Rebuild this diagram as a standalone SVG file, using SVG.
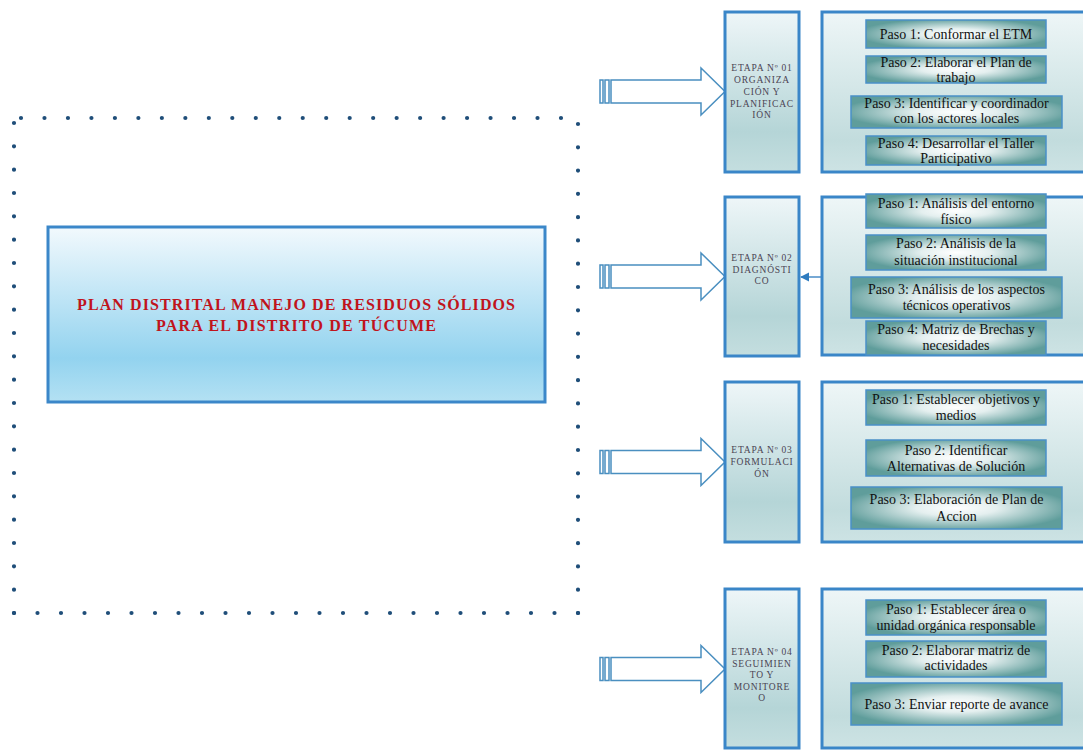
<svg xmlns="http://www.w3.org/2000/svg" width="1083" height="750" viewBox="0 0 1083 750">
<defs>
<linearGradient id="gMain" x1="0" y1="0" x2="0" y2="1">
<stop offset="0" stop-color="#f2f9fd"/>
<stop offset="0.75" stop-color="#93d3ef"/>
<stop offset="1" stop-color="#b4e1f3"/>
</linearGradient>
<linearGradient id="gEtapa" x1="0" y1="0" x2="0" y2="1">
<stop offset="0" stop-color="#eef6f8"/>
<stop offset="0.75" stop-color="#b5d5d7"/>
<stop offset="1" stop-color="#c4dedf"/>
</linearGradient>
<linearGradient id="gCont" x1="0" y1="0" x2="0" y2="1">
<stop offset="0" stop-color="#eef6f7"/>
<stop offset="0.8" stop-color="#c2dcdd"/>
<stop offset="1" stop-color="#cde3e4"/>
</linearGradient>
<radialGradient id="gStep" cx="0.5" cy="0.5" r="0.55">
<stop offset="0" stop-color="#ffffff"/>
<stop offset="0.35" stop-color="#e4efef"/>
<stop offset="1" stop-color="#5f9d9b"/>
</radialGradient>
<marker id="ah" viewBox="0 0 10 10" refX="9" refY="5" markerWidth="7" markerHeight="7" orient="auto">
<path d="M0,0 L10,5 L0,10 z" fill="#2e7bbf"/>
</marker>
<path id="barrow" d="M11,-11.5 H101 V-23.5 L125,0 L101,23.5 V11.5 H11 Z"/>
</defs>
<style>
.dots{fill:none;stroke:#1f4e79;stroke-width:4.2;stroke-linecap:round}
.main{fill:url(#gMain);stroke:#3b87c9;stroke-width:3}
.mainT{font-family:"Liberation Serif",serif;font-weight:bold;font-size:16px;fill:#c0141c;text-anchor:middle}
.etapa{fill:url(#gEtapa);stroke:#3a86c8;stroke-width:3}
.cont{fill:url(#gCont);stroke:#3a86c8;stroke-width:3}
.step{fill:url(#gStep);stroke:#4a90c8;stroke-width:1.5}
.eT{font-family:"Liberation Serif",serif;font-size:9.5px;fill:#4b4453;text-anchor:middle;letter-spacing:0.8px}
.sT{font-family:"Liberation Serif",serif;font-size:14px;fill:#111;text-anchor:middle}
.arr{fill:#ffffff;stroke:#4a8fc0;stroke-width:1.5}
.conn{stroke:#2e7bbf;stroke-width:1.3;fill:none}
</style>
<rect width="1083" height="750" fill="#ffffff"/>

<g id="frame">
<path class="dots" stroke-dasharray="0 23.478" d="M21,118 H561.5"/>
<path class="dots" stroke-dasharray="0 23.333" d="M14,123 V613.5"/>
<path class="dots" stroke-dasharray="0 23.5" d="M14,613 H578.5"/>
<path class="dots" stroke-dasharray="0 23.286" d="M578,124 V613.5"/>
</g>

<g id="main">
<rect class="main" x="48" y="227" width="497" height="175"/>
<text class="mainT" x="296" y="310" textLength="438" lengthAdjust="spacing">PLAN DISTRITAL MANEJO DE RESIDUOS SÓLIDOS</text>
<text class="mainT" x="296" y="331" textLength="280" lengthAdjust="spacing">PARA EL DISTRITO DE TÚCUME</text>
</g>

<g id="connectors">
<g transform="translate(600,91.5)"><rect class="arr" x="0" y="-11.5" width="3" height="23"/><rect class="arr" x="5" y="-11.5" width="4" height="23"/><use href="#barrow" class="arr"/></g>
<g transform="translate(600,276.5)"><rect class="arr" x="0" y="-11.5" width="3" height="23"/><rect class="arr" x="5" y="-11.5" width="4" height="23"/><use href="#barrow" class="arr"/></g>
<g transform="translate(600,462)"><rect class="arr" x="0" y="-11.5" width="3" height="23"/><rect class="arr" x="5" y="-11.5" width="4" height="23"/><use href="#barrow" class="arr"/></g>
<g transform="translate(600,669)"><rect class="arr" x="0" y="-11.5" width="3" height="23"/><rect class="arr" x="5" y="-11.5" width="4" height="23"/><use href="#barrow" class="arr"/></g>
<line class="conn" x1="822" y1="277" x2="801" y2="277" marker-end="url(#ah)"/>
</g>

<g id="etapa1">
<rect class="etapa" x="725" y="12" width="74" height="160"/>
<text class="eT" x="762" y="71">ETAPA Nº 01</text>
<text class="eT" x="762" y="83">ORGANIZA</text>
<text class="eT" x="762" y="94.5">CIÓN Y</text>
<text class="eT" x="762" y="106.5">PLANIFICAC</text>
<text class="eT" x="762" y="118">IÓN</text>
</g>
<g id="etapa2">
<rect class="etapa" x="725" y="197" width="74" height="159"/>
<text class="eT" x="762" y="261">ETAPA Nº 02</text>
<text class="eT" x="762" y="272.5">DIAGNÓSTI</text>
<text class="eT" x="762" y="284">CO</text>
</g>
<g id="etapa3">
<rect class="etapa" x="725" y="382" width="74" height="160"/>
<text class="eT" x="762" y="453">ETAPA Nº 03</text>
<text class="eT" x="762" y="465">FORMULACI</text>
<text class="eT" x="762" y="477">ÓN</text>
</g>
<g id="etapa4">
<rect class="etapa" x="725" y="589" width="74" height="159"/>
<text class="eT" x="762" y="655">ETAPA Nº 04</text>
<text class="eT" x="762" y="666.5">SEGUIMIEN</text>
<text class="eT" x="762" y="678">TO Y</text>
<text class="eT" x="762" y="689.5">MONITORE</text>
<text class="eT" x="762" y="701">O</text>
</g>

<g id="pasos1">
<rect class="cont" x="822" y="12" width="270" height="160"/>
<rect class="step" x="866" y="20" width="180" height="28"/>
<text class="sT" x="956" y="38.5">Paso 1: Conformar el ETM</text>
<rect class="step" x="866" y="56" width="180" height="27"/>
<text class="sT" x="956" y="67">Paso 2: Elaborar el Plan de</text>
<text class="sT" x="956" y="81.5">trabajo</text>
<rect class="step" x="851" y="96" width="211" height="32"/>
<text class="sT" x="956.5" y="108">Paso 3: Identificar y coordinador</text>
<text class="sT" x="956.5" y="123">con los actores locales</text>
<rect class="step" x="866" y="136" width="180" height="29"/>
<text class="sT" x="956" y="148">Paso 4: Desarrollar el Taller</text>
<text class="sT" x="956" y="162.5">Participativo</text>
</g>

<g id="pasos2">
<rect class="cont" x="822" y="197" width="270" height="158"/>
<rect class="step" x="866" y="194" width="180" height="34"/>
<text class="sT" x="956" y="208">Paso 1: Análisis del entorno</text>
<text class="sT" x="956" y="223.5">físico</text>
<rect class="step" x="866" y="235" width="180" height="35"/>
<text class="sT" x="956" y="248">Paso 2: Análisis de la</text>
<text class="sT" x="956" y="264.5">situación institucional</text>
<rect class="step" x="851" y="277" width="211" height="41"/>
<text class="sT" x="956.5" y="294">Paso 3: Análisis de los aspectos</text>
<text class="sT" x="956.5" y="310">técnicos operativos</text>
<rect class="step" x="866" y="321" width="180" height="34"/>
<text class="sT" x="956" y="334">Paso 4: Matriz de Brechas y</text>
<text class="sT" x="956" y="350">necesidades</text>
</g>

<g id="pasos3">
<rect class="cont" x="822" y="382" width="270" height="160"/>
<rect class="step" x="866" y="390" width="180" height="35"/>
<text class="sT" x="956" y="403.5">Paso 1: Establecer objetivos y</text>
<text class="sT" x="956" y="419.5">medios</text>
<rect class="step" x="866" y="440" width="180" height="36"/>
<text class="sT" x="956" y="455">Paso 2: Identificar</text>
<text class="sT" x="956" y="471">Alternativas de Solución</text>
<rect class="step" x="851" y="487" width="211" height="42"/>
<text class="sT" x="956.5" y="504">Paso 3: Elaboración de Plan de</text>
<text class="sT" x="956.5" y="521">Accion</text>
</g>

<g id="pasos4">
<rect class="cont" x="822" y="589" width="270" height="159"/>
<rect class="step" x="866" y="600" width="180" height="35"/>
<text class="sT" x="956" y="613.5">Paso 1: Establecer área o</text>
<text class="sT" x="956" y="629.5">unidad orgánica responsable</text>
<rect class="step" x="866" y="641" width="180" height="36"/>
<text class="sT" x="956" y="654.5">Paso 2: Elaborar matriz de</text>
<text class="sT" x="956" y="670">actividades</text>
<rect class="step" x="851" y="683" width="211" height="42"/>
<text class="sT" x="956.5" y="709">Paso 3: Enviar reporte de avance</text>
</g>
</svg>
